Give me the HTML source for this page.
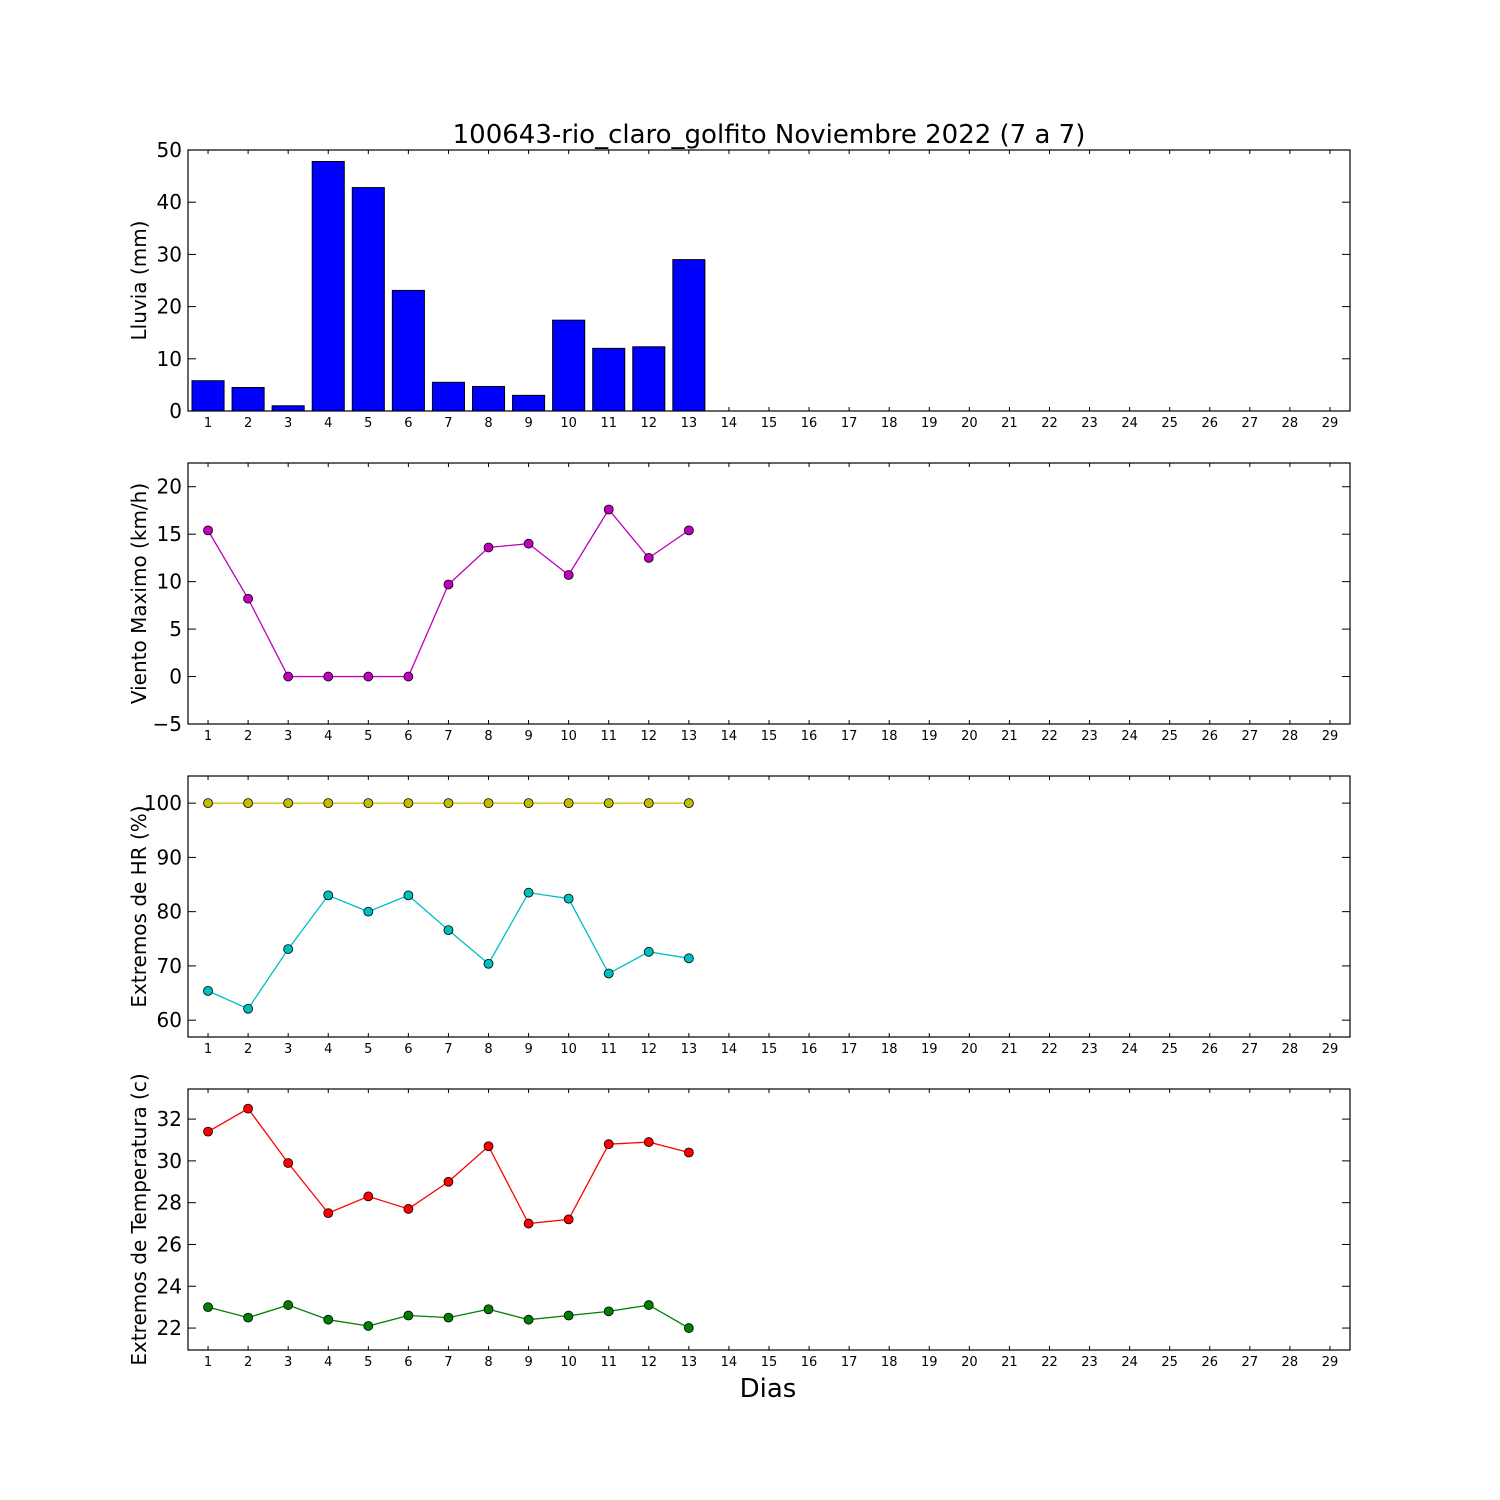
<!DOCTYPE html>
<html><head><meta charset="utf-8"><style>
html,body{margin:0;padding:0;background:#fff}
svg{display:block;font-family:"DejaVu Sans","Liberation Sans",sans-serif}
</style></head><body>
<svg id="c" width="1500" height="1500" viewBox="0 0 1500 1500">
<text x="769" y="143" text-anchor="middle" font-size="26">100643-rio_claro_golfito Noviembre 2022  (7 a 7)</text>
<text x="768" y="1397" text-anchor="middle" font-size="26">Dias</text>
</svg>
<script>
const days = [1,2,3,4,5,6,7,8,9,10,11,12,13];
const rain = [5.8,4.5,1,47.8,42.8,23.1,5.5,4.7,3,17.4,12,12.3,29];
const wind = [15.4,8.2,0,0,0,0,9.7,13.6,14,10.7,17.6,12.5,15.4];
const hrMax = [100,100,100,100,100,100,100,100,100,100,100,100,100];
const hrMin = [65.4,62.1,73.1,83,80,83,76.6,70.4,83.5,82.4,68.6,72.6,71.4];
const tMax = [31.4,32.5,29.9,27.5,28.3,27.7,29,30.7,27,27.2,30.8,30.9,30.4];
const tMin = [23,22.5,23.1,22.4,22.1,22.6,22.5,22.9,22.4,22.6,22.8,23.1,22];
const rainTicks = [0,10,20,30,40,50];
const windTicks = [-5,0,5,10,15,20];
const hrTicks = [60,70,80,90,100];
const tTicks = [22,24,26,28,30,32];
const xTicks = Array.from({length:29},(_, i)=>i+1);

const NS="http://www.w3.org/2000/svg";
const svg=document.getElementById('c');
const L=188,R=1350;
const xs=d=>L+(d-0.5)*(R-L)/29;
function el(tag,attrs,parent){const e=document.createElementNS(NS,tag);for(const k in attrs)e.setAttribute(k,attrs[k]);(parent||svg).appendChild(e);return e;}
function panel(name,top,bot,y0,y1,yt,label){
  const g=el('g',{});
  
  
  const ys=v=>bot-(v-y0)/(y1-y0)*(bot-top);
  xTicks.forEach(d=>{
    const x=xs(d);
    el('line',{x1:x,x2:x,y1:bot,y2:bot-4,stroke:'#000','stroke-width':1},g);
    el('line',{x1:x,x2:x,y1:top,y2:top+4,stroke:'#000','stroke-width':1},g);
    const t=el('text',{x:x,y:bot+16,'text-anchor':'middle','font-size':13},g);
    t.textContent=d;
    
    
  });
  yt.forEach(v=>{
    const y=ys(v);
    el('line',{x1:L,x2:L+8,y1:y,y2:y,stroke:'#000','stroke-width':1},g);
    el('line',{x1:R,x2:R-8,y1:y,y2:y,stroke:'#000','stroke-width':1},g);
    const t=el('text',{x:L-6,y:y+7,'text-anchor':'end','font-size':20},g);
    t.textContent=(v<0?'\u2212'+(-v):v);
    
    
  });
  const cy=(top+bot)/2;
  const t=el('text',{x:0,y:0,'text-anchor':'middle','font-size':20,transform:`translate(146,${cy}) rotate(-90)`},g);
  t.textContent=label;
  
  
  return {g,ys,top,bot};
}
function frame(p){
  const r=el('rect',{x:L,y:p.top,width:R-L,height:p.bot-p.top,fill:'none',stroke:'#000','stroke-width':1.2},p.g);
  
  
}
function series(p,vals,color,name){
  const pts=days.map((d,i)=>xs(d)+','+p.ys(vals[i])).join(' ');
  const pl=el('polyline',{points:pts,fill:'none',stroke:color,'stroke-width':1.3},p.g);
  
  
  days.forEach((d,i)=>{
    const c=el('circle',{cx:xs(d),cy:p.ys(vals[i]),r:4.5,fill:color,stroke:'#000','stroke-width':0.8},p.g);
    
    
  });
}
// Panel 1 rain
const p1=panel('rain',150,411,0,50,rainTicks,'Lluvia (mm)');
const bw=0.8*(R-L)/29;
days.forEach((d,i)=>{
  const y=p1.ys(rain[i]);
  const b=el('rect',{x:xs(d)-bw/2,y:y,width:bw,height:p1.ys(0)-y,fill:'#0000ff',stroke:'#000','stroke-width':1},p1.g);
  
  
});
frame(p1);
const p2=panel('wind',463,724,-5,22.5,windTicks,'Viento Maximo (km/h)');
series(p2,wind,'#bf00bf','wind');frame(p2);
const p3=panel('humidity',776,1037,56.9,105,hrTicks,'Extremos de HR (%)');
series(p3,hrMax,'#bfbf00','hr-max');series(p3,hrMin,'#00bfbf','hr-min');frame(p3);
const p4=panel('temperature',1089,1350,20.95,33.44,tTicks,'Extremos de Temperatura (c)');
series(p4,tMax,'#ff0000','temp-max');series(p4,tMin,'#008000','temp-min');frame(p4);
</script>
</body></html>
